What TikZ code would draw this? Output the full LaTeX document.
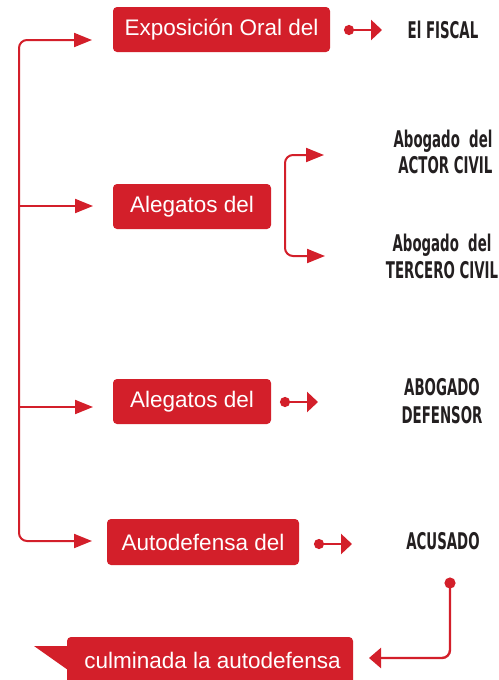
\documentclass[tikz,border=0pt]{standalone}
\usepackage{fontspec}
\setmainfont{Liberation Sans}
\newfontfamily\condfont[FakeStretch=0.58]{DejaVu Sans}
\usetikzlibrary{arrows.meta}
\definecolor{myred}{HTML}{D31F2A}
\definecolor{mydark}{HTML}{231F20}
\tikzset{
  redbox/.style={fill=myred, rounded corners=4pt, text=white, font=\fontsize{22.5}{26}\selectfont, inner sep=0pt},
  lbl/.style={text=mydark, font=\condfont\bfseries\fontsize{23}{26}\selectfont, align=center, inner sep=0pt},
  conn/.style={draw=myred, line width=2pt, rounded corners=8pt},
  arr/.style={conn, -{Triangle[length=18pt,width=14pt]}},
  dotarr/.style={conn, line width=2.6pt, {Circle[length=10pt]}-{Triangle[length=11pt,width=20pt]}},
  dotline/.style={conn, line width=2.4pt, {Circle[length=11pt]}-{Triangle[length=12pt,width=20pt]}}
}
\begin{document}
\begin{tikzpicture}[x=1pt,y=-1pt]
\useasboundingbox (0,0) rectangle (498,680);
% boxes
\node[redbox, minimum width=217pt, minimum height=45pt] (b1) at (221.5,29.5) {Exposición Oral del};
\node[redbox, minimum width=158pt, minimum height=45pt] (b2) at (192,206.5) {Alegatos del};
\node[redbox, minimum width=158pt, minimum height=45pt] (b3) at (192,401.5) {Alegatos del};
\node[redbox, minimum width=192pt, minimum height=46pt] (b4) at (203,542) {Autodefensa del};
% final box with tail
\fill[myred, rounded corners=4pt] (67,700) -- (67,637) -- (353,637) -- (353,700) -- cycle;
\fill[myred] (34,646) -- (68,646) -- (68,670) -- cycle;
\node[text=white, font=\fontsize{22.5}{26}\selectfont, inner sep=0pt] (fin) at (212.5,660) {culminada la autodefensa};
% labels
\node[lbl] (l1) at (443,30) {El FISCAL};
\node[lbl] (l2) at (443,152) {Abogado\ \ del\\[-0.5pt]\ ACTOR CIVIL};
\node[lbl] (l3) at (442,256) {Abogado\ \ del\\[1pt]TERCERO CIVIL};
\node[lbl] (l4) at (442,401) {ABOGADO\\[1.5pt]DEFENSOR};
\node[lbl] (l5) at (443,541) {ACUSADO};
% spine coordinates
\coordinate (sp) at (19,300);
\coordinate (t1) at (92,40);
\coordinate (t2) at (93,206);
\coordinate (t3) at (93,407);
\coordinate (t4) at (92,541);
\draw[arr] (sp) |- (t1);
\draw[arr] (sp) |- (t4);
\draw[arr] (sp |- t2) -- (t2);
\draw[arr] (sp |- t3) -- (t3);
% bracket
\coordinate (br) at (285,206);
\coordinate (u1) at (324,155);
\coordinate (u2) at (325,256);
\draw[arr] (br) |- (u1);
\draw[arr] (br) |- (u2);
% dot arrows
\coordinate (d1) at (344,30);
\coordinate (e1) at (382,30);
\coordinate (d3) at (280,402);
\coordinate (e3) at (318,402);
\coordinate (d4) at (314,544);
\coordinate (e4) at (352,544);
\draw[dotarr] (d1) -- (e1);
\draw[dotarr] (d3) -- (e3);
\draw[dotarr] (d4) -- (e4);
% acusado to final
\coordinate (d5) at (450,577.5);
\coordinate (e5) at (369,658);
\draw[dotline] (d5) |- (e5);
\end{tikzpicture}
\end{document}
